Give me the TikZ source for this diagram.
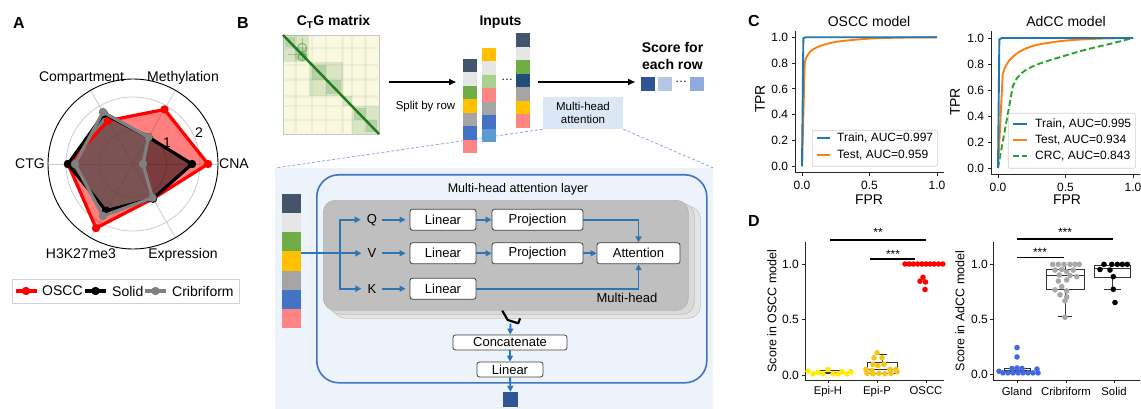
\documentclass[tikz,border=0pt]{standalone}
\usepackage{fontspec}
\setmainfont{Liberation Sans}
\usetikzlibrary{arrows.meta}

\newcommand\pxfont[1]{\fontsize{#1}{#1}\selectfont}
% a vertical stack of coloured cells: x-left, y-top, width, cell height, colours
\newcommand\cellstack[5]{%
  \foreach \cc [count=\k from 0] in {#5}
    \fill[\cc] (#1,{#2+#4*\k}) rectangle ++(#3,#4);%
}

\definecolor{cSlate}{HTML}{44546A}
\definecolor{cLight}{HTML}{E7E6E6}
\definecolor{cGreen}{HTML}{70AD47}
\definecolor{cYellow}{HTML}{FFC000}
\definecolor{cGrey}{HTML}{A5A5A5}
\definecolor{cBlue}{HTML}{4472C4}
\definecolor{cPink}{HTML}{FF8585}
\definecolor{cLGreen}{HTML}{A9D18E}
\definecolor{cSky}{HTML}{5B9BD5}
\definecolor{cNavy}{HTML}{1F4E79}
\definecolor{flowBlue}{HTML}{2E75B6}
\definecolor{layerBlue}{HTML}{4472C4}
\definecolor{zoomBg}{HTML}{EDF3FA}
\definecolor{mhaBg}{HTML}{DAE8F5}
\definecolor{dashBlue}{HTML}{8FAADC}
\definecolor{scDark}{HTML}{2F5597}
\definecolor{scLight}{HTML}{B4C7E7}
\definecolor{scMid}{HTML}{8FAADC}
\definecolor{mplBlue}{HTML}{1F77B4}
\definecolor{mplOrange}{HTML}{FF7F0E}
\definecolor{mplGreen}{HTML}{2CA02C}
\definecolor{matBg}{HTML}{FAF8E0}
\definecolor{matGreen}{HTML}{1E7B1E}
\definecolor{epiH}{HTML}{FFEA00}
\definecolor{epiP}{HTML}{F5C518}
\definecolor{glandBlue}{HTML}{4169E1}
\definecolor{cribGrey}{HTML}{A8A8A8}

\begin{document}
\begin{tikzpicture}[x=1pt, y=-1pt,
  panellabel/.style={font=\pxfont{16}\bfseries, inner sep=0, anchor=base west},
  radarlbl/.style={font=\pxfont{14}, inner sep=0},
  hdr/.style={font=\fontsize{14}{16.5}\selectfont\bfseries, inner sep=0, align=center},
  barrow/.style={line width=1.6pt, -{Triangle[length=7pt,width=6pt]}},
  flow/.style={draw=flowBlue, line width=1.9pt, -{Triangle[length=6pt,width=6pt]}},
  opbox/.style={draw=black!75, fill=white, rounded corners=2.5pt, line width=0.8pt,
                font=\pxfont{13}, inner sep=0, minimum height=21pt},
  qvk/.style={font=\pxfont{13}, inner sep=2pt},
  ticklbl/.style={font=\pxfont{12}, inner sep=0},
  axisline/.style={line width=0.9pt, draw=black!85},
  rocleg/.style={font=\pxfont{12}, inner sep=0, anchor=west},
  legbox/.style={draw=gray!35, line width=0.7pt, fill=white, rounded corners=2pt, inner sep=0, anchor=north west},
  boxst/.style={draw=black!80, line width=0.8pt},
  sigline/.style={line width=1.3pt, black},
  sigtxt/.style={font=\pxfont{12}, inner sep=0, anchor=base},
  cell/.style={inner sep=0, anchor=north west}
]
\useasboundingbox (0,0) rectangle (1141,409);
\fill[white] (0,0) rectangle (1141,409);

% ---------------- panel letters ----------------
\node[panellabel] (pA) at (13,29) {A};
\node[panellabel] (pB) at (237,29) {B};
\node[panellabel] (pC) at (748,27) {C};
\node[panellabel] (pD) at (748,226) {D};

% ---------------- A: radar chart ----------------
\begin{scope}[shift={(133,164)}]
  \foreach \a in {0,60,...,300}
    \draw[gray!40, line width=0.8pt] (0,0) -- (\a:85);
  \draw[gray!40, line width=0.8pt] (0,0) circle[radius=33.5pt] (0,0) circle[radius=67pt];
  \draw[black, line width=0.9pt] (0,0) circle[radius=85pt];
  % filled profiles
  \fill[red, opacity=0.5] (0:75) -- (-60:63) -- (-120:50) -- (180:65) -- (120:74) -- (60:40) -- cycle;
  \fill[black, opacity=0.52] (0:59) -- (-60:31) -- (-120:58) -- (180:65) -- (120:54) -- (60:40) -- cycle;
  \fill[gray, opacity=0.35] (0:10) -- (-60:31) -- (-120:60) -- (180:58) -- (120:60) -- (60:39) -- cycle;
  % outlines and markers
  \draw[red, line width=3.2pt, line join=round] (0:75) -- (-60:63) -- (-120:50) -- (180:65) -- (120:74) -- (60:40) -- cycle;
  \foreach \r [count=\i from 0] in {75,63,50,65,74,40} \fill[red] ({-60*\i}:\r) circle[radius=4.2pt];
  \draw[black, line width=3.2pt, line join=round] (0:59) -- (-60:31) -- (-120:58) -- (180:65) -- (120:54) -- (60:40) -- cycle;
  \foreach \r [count=\i from 0] in {59,31,58,65,54,40} \fill[black] ({-60*\i}:\r) circle[radius=4.2pt];
  \draw[gray, line width=3.2pt, line join=round] (0:10) -- (-60:31) -- (-120:60) -- (180:58) -- (120:60) -- (60:39) -- cycle;
  \foreach \r [count=\i from 0] in {10,31,60,58,60,39} \fill[gray] ({-60*\i}:\r) circle[radius=4.2pt];
\end{scope}
\node[radarlbl, anchor=base] (lcomp) at (81.5,81.7) {Compartment};
\node[radarlbl, anchor=base] (lmeth) at (183,81.7) {Methylation};
\node[radarlbl, anchor=base east] (lctg) at (45,169) {CTG};
\node[radarlbl, anchor=base west] (lcna) at (219,169) {CNA};
\node[radarlbl, anchor=base] (lh3k) at (81,258) {H3K27me3};
\node[radarlbl, anchor=base] (lexp) at (183,258) {Expression};
\node[radarlbl] (ring1) at (167,143) {1};
\node[radarlbl] (ring2) at (199,133) {2};
% legend
\node[draw=gray!35, line width=0.7pt, fill=white, minimum width=227pt, minimum height=24pt, inner sep=0] (radleg) at (125.5,291) {};
\draw[red, line width=3.2pt] (16,291) -- (37,291); \fill[red] (26,291) circle[radius=4.2pt];
\node[radarlbl, anchor=west] (legO) at (42,291) {OSCC};
\draw[black, line width=3.2pt] (85,291) -- (106,291); \fill[black] (95.5,291) circle[radius=4.2pt];
\node[radarlbl, anchor=west] (legS) at (112,291) {Solid};
\draw[gray, line width=3.2pt] (145,291) -- (166,291); \fill[gray] (155.5,291) circle[radius=4.2pt];
\node[radarlbl, anchor=west] (legC) at (172,291) {Cribriform};

% ---------------- B: model overview ----------------
% zoomed panel and its callout
\node[fill=zoomBg, minimum width=438pt, minimum height=241pt, inner sep=0, anchor=north west] (zpanel) at (275,168) {};
\node[fill=mhaBg, minimum width=80pt, minimum height=32pt, inner sep=0, align=center,
      font=\fontsize{11.5}{13.5}\selectfont] (mha) at (583,113) {Multi-head\\attention};
\draw[dashBlue, line width=0.8pt, dash pattern=on 3pt off 2pt] (mha.south west) -- (zpanel.north west);
\draw[dashBlue, line width=0.8pt, dash pattern=on 3pt off 2pt] (mha.south east) -- (zpanel.north east);

% contact matrix
\node[hdr, anchor=base] (mattitle) at (333.5,26) {C\textsubscript{T}G matrix};
\node[draw=gray!45, line width=0.6pt, fill=matBg, minimum width=96pt, minimum height=99pt, inner sep=0, anchor=north west] (mat) at (283,35) {};
\begin{scope}[shift={(mat.north west)}, x=96pt, y=-99pt]
  \foreach \f in {0.13,0.3,0.45,0.62,0.72,0.86} {
    \fill[matGreen, opacity=0.06] ({\f-0.012},0.01) rectangle ({\f+0.012},0.99);
    \fill[matGreen, opacity=0.06] (0.01,{\f-0.012}) rectangle (0.99,{\f+0.012});
  }
  \foreach \a/\b in {0/0.27, 0.27/0.62, 0.62/0.72, 0.72/1}
    \fill[matGreen, opacity=0.15] (\a,\a) rectangle (\b,\b);
  \foreach \a/\b in {0.02/0.12, 0.12/0.25, 0.3/0.45, 0.45/0.6, 0.74/0.86, 0.86/0.98}
    \fill[matGreen, opacity=0.18] (\a,\a) rectangle (\b,\b);
  \draw[matGreen, opacity=0.45, line width=1pt] (0.2,0.13) circle[radius=4.5pt] (0.2,0.22) circle[radius=4pt];
  \draw[matGreen, opacity=0.3, line width=0.9pt] (0.05,0.2) -- (0.25,0.2) (0.2,0.03) -- (0.2,0.25);
  \draw[matGreen, line width=2.4pt] (0,0) -- (1,1);
\end{scope}

% input rows
\node[hdr, anchor=base] (inputs) at (500.5,26) {Inputs};
\node[cell, minimum width=14pt, minimum height=94pt] (col1) at (463,59) {};
\cellstack{463}{59}{14}{13.43}{cSlate,cLight,cGreen,cYellow,cGrey,cBlue,cPink}
\node[cell, minimum width=14pt, minimum height=94pt] (col2) at (482,48) {};
\cellstack{482}{48}{14}{13.43}{cYellow,cLight,cLGreen,cPink,cGrey,cBlue,cSky}
\node[font=\pxfont{12}, inner sep=0] (coldots) at (507,80) {…};
\node[cell, minimum width=14pt, minimum height=94pt] (col3) at (516,33.5) {};
\cellstack{516}{33.5}{14}{13.43}{cSlate,cLight,cGreen,cNavy,cGrey,cYellow,cPink}

\coordinate (rowline) at (0,82);
\draw[barrow, shorten <=9pt, shorten >=7pt] (mat.east |- rowline) -- (col1.west |- rowline);
\node[font=\pxfont{11.5}, inner sep=0, anchor=base] (split) at (425.5,110) {Split by row};

% per-row scores
\node[hdr] (scoretitle) at (672.5,56) {Score for\\each row};
\node[cell, fill=scDark, minimum size=14pt] (sc1) at (641,77) {};
\node[cell, fill=scLight, minimum size=14pt] (sc2) at (658,77) {};
\node[font=\pxfont{12}, inner sep=0] (scdots) at (681,82) {…};
\node[cell, fill=scMid, minimum size=14pt] (sc3) at (690,77) {};
\draw[barrow, shorten <=8pt, shorten >=6pt] (col3.east |- rowline) -- (sc1.west |- rowline);

% multi-head attention layer
\node[cell, draw=layerBlue, line width=1.6pt, rounded corners=22pt, minimum width=390pt, minimum height=208pt] (layer) at (316,174) {};
\node[font=\pxfont{12.5}, inner sep=0] (layertitle) at (518,189) {Multi-head attention layer};
\node[cell, fill=gray!20, draw=gray!45, line width=0.6pt, rounded corners=12pt, minimum width=367pt, minimum height=112pt] (head3) at (333,206) {};
\node[cell, fill=gray!30, draw=gray!50, line width=0.6pt, rounded corners=12pt, minimum width=366pt, minimum height=111pt] (head2) at (328,203) {};
\node[cell, fill=gray!50, draw=gray!60, line width=0.6pt, rounded corners=12pt, minimum width=365pt, minimum height=110pt] (head1) at (323,200) {};

\node[cell, minimum width=19pt, minimum height=134pt] (incol) at (282,194) {};
\cellstack{282}{194}{19}{19.14}{cSlate,cLight,cGreen,cYellow,cGrey,cBlue,cPink}

\node[qvk] (Q) at (372,219.7) {Q};
\node[qvk] (V) at (372,253.3) {V};
\node[qvk] (K) at (372,288.7) {K};
\node[opbox, minimum width=66pt] (linq) at (443,219.7) {Linear};
\node[opbox, minimum width=91pt] (projq) at (537.5,219.7) {Projection};
\node[opbox, minimum width=66pt] (linv) at (443,253.3) {Linear};
\node[opbox, minimum width=91pt] (projv) at (537.5,253.3) {Projection};
\node[opbox, minimum width=83pt] (att) at (638.5,253.3) {Attention};
\node[opbox, minimum width=66pt] (link) at (443,288.7) {Linear};
\node[font=\pxfont{13}, inner sep=0, anchor=base] (mhlabel) at (627,302) {Multi-head};

\coordinate (bus) at (340,253.3);
\draw[flow, shorten >=4pt] (incol.east |- V) -- (V);
\draw[flow, shorten >=4pt] (bus) |- (Q);
\draw[flow, shorten >=4pt] (bus) |- (K);
\draw[flow, shorten <=3pt, shorten >=4pt] (Q) -- (linq);
\draw[flow, shorten <=3pt, shorten >=4pt] (V) -- (linv);
\draw[flow, shorten <=3pt, shorten >=4pt] (K) -- (link);
\draw[flow] (linq) -- (projq);
\draw[flow] (linv) -- (projv);
\draw[flow] (projq.east) -| (att.north);
\draw[flow] (projv) -- (att);
\draw[flow] (link.east) -| (att.south);

% merging the heads
\draw[black, line width=2.2pt, line join=round] (502.3,310.7) -- (507.7,320) -- (518.3,323.3) -- (520,318.3);
\coordinate (merge) at (510.5,323.5);
\node[opbox, minimum width=114pt, minimum height=15pt] (concat) at (510,342.5) {Concatenate};
\node[opbox, minimum width=66pt, minimum height=15pt] (lin2) at (510,369.5) {Linear};
\node[fill=scDark, minimum size=15pt, inner sep=0] (outsq) at (510.5,399.5) {};
\draw[flow] (merge) -- (concat);
\draw[flow] (concat) -- (lin2);
\draw[flow] (lin2) -- (outsq);

% ---------------- C: ROC curves ----------------
\node[font=\pxfont{14}, inner sep=0] (titO) at (869,21) {OSCC model};
\node[font=\pxfont{14}, inner sep=0] (titA) at (1066,21) {AdCC model};
\node[font=\pxfont{14}, inner sep=0, rotate=90] (tprO) at (760,99) {TPR};
\node[font=\pxfont{14}, inner sep=0, rotate=90] (tprA) at (955,102) {TPR};
\node[font=\pxfont{14}, inner sep=0] (fprO) at (869,200) {FPR};
\node[font=\pxfont{14}, inner sep=0] (fprA) at (1067,200) {FPR};

\begin{scope}[xshift=802pt, yshift=-166.3pt, x=135pt, y=129pt]
  \draw[axisline] (-0.05,1.05) -- (-0.05,-0.05) -- (1.05,-0.05);
  \foreach \v/\t in {0/0.0,0.2/0.2,0.4/0.4,0.6/0.6,0.8/0.8,1/1.0} {
    \draw[axisline] (-0.05,\v) -- ++(-3.5pt,0);
    \node[ticklbl, anchor=east] at ([xshift=-7pt]-0.05,\v) {\t};
  }
  \foreach \v/\t in {0/0.0,0.5/0.5,1/1.0} {
    \draw[axisline] (\v,-0.05) -- ++(0,-3.5pt);
    \node[ticklbl, anchor=north] at ([yshift=-8pt]\v,-0.05) {\t};
  }
  \draw[mplOrange, line width=1.9pt, line join=round] (0,0) -- (0.02,0.8) -- plot[smooth]
    coordinates {(0.03,0.84) (0.05,0.875) (0.08,0.905) (0.14,0.935) (0.26,0.966) (0.5,0.99) (0.75,0.998) (1,1)};
  \draw[mplBlue, line width=1.9pt, line join=round] (0,0) -- (0.01,0.995) -- (0.03,1) -- (1,1);
\end{scope}
\node[legbox, minimum width=125pt, minimum height=36pt] (legOSCC) at (812,130) {};
\draw[mplBlue, line width=1.9pt] (817,138) -- (830,138);
\node[rocleg] (lo1) at (837,138) {Train, AUC=0.997};
\draw[mplOrange, line width=1.9pt] (817,155) -- (830,155);
\node[rocleg] (lo2) at (837,155) {Test, AUC=0.959};

\begin{scope}[xshift=998pt, yshift=-168pt, x=135pt, y=130pt]
  \draw[axisline] (-0.05,1.05) -- (-0.05,-0.05) -- (1.05,-0.05);
  \foreach \v/\t in {0/0.0,0.2/0.2,0.4/0.4,0.6/0.6,0.8/0.8,1/1.0} {
    \draw[axisline] (-0.05,\v) -- ++(-3.5pt,0);
    \node[ticklbl, anchor=east] at ([xshift=-7pt]-0.05,\v) {\t};
  }
  \foreach \v/\t in {0/0.0,0.5/0.5,1/1.0} {
    \draw[axisline] (\v,-0.05) -- ++(0,-3.5pt);
    \node[ticklbl, anchor=north] at ([yshift=-8pt]\v,-0.05) {\t};
  }
  \draw[mplGreen, line width=1.9pt, dash pattern=on 6pt off 3pt] (0,0) -- (0.11,0.63) -- plot[smooth]
    coordinates {(0.14,0.69) (0.2,0.75) (0.3,0.8) (0.45,0.85) (0.65,0.91) (0.85,0.96) (1,1)};
  \draw[mplOrange, line width=1.9pt, line join=round] (0,0) -- (0.035,0.72) -- plot[smooth]
    coordinates {(0.05,0.77) (0.086,0.83) (0.16,0.895) (0.28,0.945) (0.5,0.98) (0.75,0.995) (1,1)};
  \draw[mplBlue, line width=1.9pt, line join=round] (0,0) -- (0.01,0.99) -- (0.03,1) -- (1,1);
\end{scope}
\node[legbox, minimum width=127pt, minimum height=55pt] (legAdCC) at (1008,113) {};
\draw[mplBlue, line width=1.9pt] (1013,124) -- (1027,124);
\node[rocleg] (la1) at (1035,124) {Train, AUC=0.995};
\draw[mplOrange, line width=1.9pt] (1013,140) -- (1027,140);
\node[rocleg] (la2) at (1035,140) {Test, AUC=0.934};
\draw[mplGreen, line width=1.9pt, dash pattern=on 6pt off 3pt] (1013,156) -- (1027,156);
\node[rocleg] (la3) at (1035,156) {CRC, AUC=0.843};

% ---------------- D: score distributions ----------------
\node[font=\pxfont{12.5}, inner sep=0, rotate=90] (ylabO) at (772,311) {Score in OSCC model};
\node[font=\pxfont{12.5}, inner sep=0, rotate=90] (ylabA) at (960,311) {Score in AdCC model};

\begin{scope}[yshift=-375pt, y=111pt]
  \draw[axisline] (805,1.2) -- (805,-0.045) -- (944,-0.045);
  \foreach \v/\t in {0/0.0,0.5/0.5,1/1.0} {
    \draw[axisline] (805,\v) -- ++(-3pt,0);
    \node[ticklbl, anchor=east] at ([xshift=-6pt]805,\v) {\t};
  }
  \foreach \x/\t in {828/Epi-H,877/Epi-P,926/OSCC} {
    \draw[axisline] (\x,-0.045) -- ++(0,-3pt);
    \node[font=\pxfont{11.3}, inner sep=0, anchor=base] at ([yshift=-15pt]\x,-0.045) {\t};
  }
  % boxes
  \draw[boxst] (817,0.01) rectangle (840,0.045);
  \draw[boxst] (817,0.02) -- (840,0.02);
  \draw[boxst] (867,0.01) rectangle (897,0.11);
  \draw[boxst] (867,0.05) -- (897,0.05);
  \draw[boxst] (882,0.11) -- (882,0.19) (877,0.19) -- (887,0.19);
  % points
  \foreach \x/\v in {808/0.035,813/0.01,818/0.025,823/0.01,828/0.05,833/0.01,838/0.01,842/0.03,847/0.01,851/0.03}
    \fill[epiH] (\x,\v) circle[radius=2.8pt];
  \foreach \x/\v in {877/0.2,874/0.155,882/0.155,873/0.095,878/0.085,884/0.097,866/0.05,872/0.04,890/0.05,896/0.05,
                     867/0.015,873/0.012,879/0.015,885/0.012,891/0.015,897/0.03}
    \fill[epiP] (\x,\v) circle[radius=2.8pt];
  \foreach \x in {905,909.2,...,943}
    \fill[red] (\x,1) circle[radius=2.8pt];
  \foreach \x/\v in {923/0.88,920/0.845,925.5/0.838,925/0.77}
    \fill[red] (\x,\v) circle[radius=2.8pt];
\end{scope}
\draw[sigline] (830,240) -- (926,240);
\node[sigtxt] (sig1) at (878,236.5) {**};
\draw[sigline] (870,259) -- (915,259);
\node[sigtxt] (sig2) at (893,258.3) {***};

\begin{scope}[yshift=-374pt, y=110pt]
  \draw[axisline] (993,1.2) -- (993,-0.055) -- (1140,-0.055);
  \foreach \v/\t in {0/0.0,0.5/0.5,1/1.0} {
    \draw[axisline] (993,\v) -- ++(-3pt,0);
    \node[ticklbl, anchor=east] at ([xshift=-5pt]993,\v) {\t};
  }
  \foreach \x/\t in {1017/Gland,1066/Cribriform,1114/Solid} {
    \draw[axisline] (\x,-0.055) -- ++(0,-3pt);
    \node[font=\pxfont{11.3}, inner sep=0, anchor=base] at ([yshift=-15pt]\x,-0.055) {\t};
  }
  % boxes
  \draw[boxst] (1004,0.02) rectangle (1030,0.05);
  \draw[boxst] (1004,0.03) -- (1030,0.03);
  \draw[boxst] (1046,0.77) rectangle (1084,0.955);
  \draw[boxst] (1046,0.9) -- (1084,0.9);
  \draw[boxst] (1065,0.955) -- (1065,0.995) (1065,0.77) -- (1065,0.52) (1058,0.52) -- (1072,0.52);
  \draw[boxst] (1094,0.88) rectangle (1130,0.99);
  \draw[boxst] (1094,0.96) -- (1130,0.96);
  \draw[boxst] (1112,0.88) -- (1112,0.77) (1104,0.77) -- (1121,0.77);
  % points
  \foreach \x/\v in {1017/0.24,1017/0.155,1012/0.05,1017/0.055,1022/0.05,1037/0.045,999/0.025,
                     1003/0.01,1008/0.01,1013/0.01,1018/0.01,1023/0.01,1028/0.01,1033/0.01,1038/0.01}
    \fill[glandBlue] (\x,\v) circle[radius=2.8pt];
  \foreach \x/\v in {1052.7/0.997,1058.3/0.997,1064/0.997,1070/0.997,1075/0.997,1079.3/0.997,
                     1055/0.945,1061.7/0.95,1066.7/0.93,1073.3/0.945,1059.3/0.9,1070/0.895,1076.7/0.885,
                     1058.3/0.845,1066.7/0.855,1061.7/0.795,1055/0.765,1066.7/0.755,1060/0.72,1066.7/0.7,
                     1065/0.665,1065/0.515}
    \fill[cribGrey] (\x,\v) circle[radius=2.8pt];
  \foreach \x/\v in {1104/0.997,1111.7/0.997,1117.3/0.997,1122.3/0.997,1127.3/0.997,
                     1100/0.95,1110/0.945,1113.3/0.885,1113.3/0.77,1115/0.65}
    \fill[black] (\x,\v) circle[radius=2.8pt];
\end{scope}
\draw[sigline] (1017,239) -- (1113,239);
\node[sigtxt] (sig3) at (1065,236) {***};
\draw[sigline] (1017,257.7) -- (1064,257.7);
\node[sigtxt] (sig4) at (1040,256) {***};
\end{tikzpicture}
\end{document}
